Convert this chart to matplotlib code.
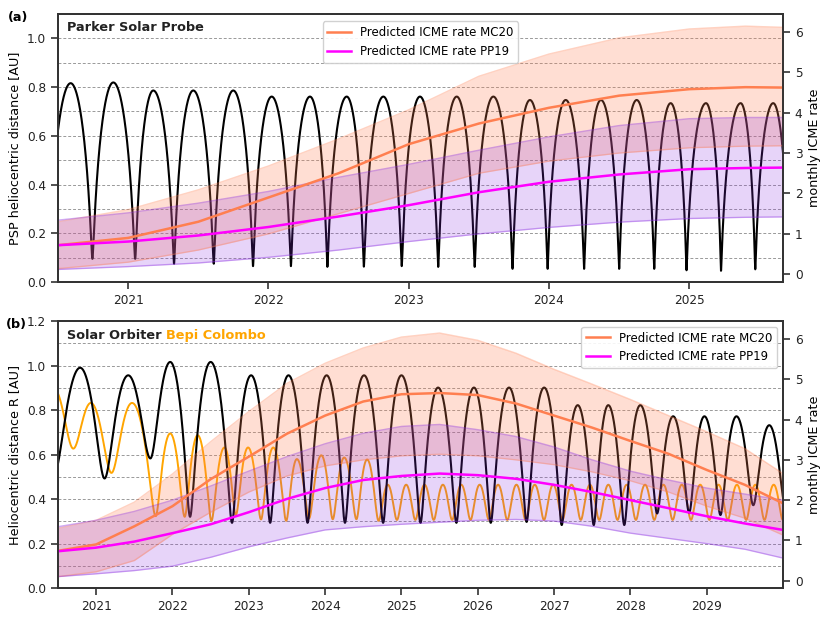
import numpy as np
import matplotlib
matplotlib.use("Agg")
import matplotlib.pyplot as plt
from matplotlib.ticker import MultipleLocator, FormatStrFormatter

plt.rcParams['font.family'] = ['DejaVu Sans']
plt.rcParams['font.size'] = 8.5

# ---------------------------------------------------------------
# Orbit extrema (decimal year, distance in AU)
# alternating perihelion / aphelion
psp_t = [2020.43, 2020.59, 2020.745, 2020.894, 2021.05, 2021.179, 2021.327, 2021.464,
         2021.61, 2021.749, 2021.89, 2022.023, 2022.16, 2022.296, 2022.42, 2022.558,
         2022.68, 2022.819, 2022.95, 2023.08, 2023.21, 2023.342, 2023.47, 2023.603,
         2023.74, 2023.864, 2023.99, 2024.119, 2024.25, 2024.37, 2024.50, 2024.625,
         2024.75, 2024.867, 2024.98, 2025.119, 2025.226, 2025.366, 2025.47, 2025.598,
         2025.71]
psp_r = [0.13, 0.816, 0.095, 0.819, 0.095, 0.786, 0.075, 0.786,
         0.075, 0.786, 0.065, 0.761, 0.065, 0.761, 0.062, 0.761,
         0.063, 0.761, 0.065, 0.761, 0.062, 0.761, 0.062, 0.761,
         0.054, 0.747, 0.054, 0.747, 0.054, 0.747, 0.054, 0.747,
         0.054, 0.734, 0.048, 0.734, 0.046, 0.734, 0.052, 0.734,
         0.046]

solo_t = [2020.455, 2020.79, 2021.11, 2021.42, 2021.71, 2021.97, 2022.23, 2022.50,
          2022.78, 2023.03, 2023.28, 2023.52, 2023.77, 2024.02, 2024.26, 2024.51,
          2024.76, 2025.00, 2025.25, 2025.48, 2025.72, 2025.95, 2026.17, 2026.41,
          2026.64, 2026.87, 2027.10, 2027.31, 2027.52, 2027.71, 2027.92, 2028.13,
          2028.35, 2028.56, 2028.77, 2028.97, 2029.18, 2029.39, 2029.61, 2029.82,
          2030.03]
solo_r = [0.52, 0.99, 0.493, 0.956, 0.583, 1.016, 0.321, 1.016,
          0.294, 0.956, 0.294, 0.956, 0.294, 0.956, 0.294, 0.956,
          0.294, 0.956, 0.294, 0.901, 0.294, 0.901, 0.294, 0.901,
          0.298, 0.901, 0.284, 0.822, 0.284, 0.822, 0.284, 0.822,
          0.336, 0.772, 0.339, 0.772, 0.329, 0.772, 0.373, 0.732,
          0.37]

bepi_t = [2020.44, 2020.70, 2020.93, 2021.20, 2021.47, 2021.78, 2021.97, 2022.16,
          2022.33, 2022.51, 2022.68, 2022.83, 2022.99, 2023.16, 2023.32, 2023.49,
          2023.63, 2023.79, 2023.95, 2024.10, 2024.25, 2024.41, 2024.55, 2024.70,
          2024.821, 2024.941, 2025.062, 2025.182, 2025.303, 2025.423, 2025.543, 2025.664,
          2025.784, 2025.905, 2026.025, 2026.146, 2026.266, 2026.387, 2026.507, 2026.627,
          2026.747, 2026.868, 2026.988, 2027.109, 2027.229, 2027.350, 2027.470, 2027.591,
          2027.711, 2027.831, 2027.951, 2028.072, 2028.192, 2028.313, 2028.433, 2028.554,
          2028.674, 2028.794, 2028.915, 2029.035, 2029.155, 2029.276, 2029.396, 2029.517,
          2029.637, 2029.757, 2029.878, 2029.998]
bepi_r = [0.90, 0.627, 0.832, 0.518, 0.832, 0.324, 0.695, 0.321,
          0.687, 0.303, 0.632, 0.329, 0.632, 0.309, 0.632, 0.303,
          0.58, 0.314, 0.597, 0.31, 0.587, 0.31, 0.578, 0.303,
          0.465, 0.307, 0.465, 0.307, 0.465, 0.307, 0.465, 0.307,
          0.465, 0.307, 0.465, 0.307, 0.465, 0.307, 0.465, 0.307,
          0.465, 0.307, 0.465, 0.307, 0.465, 0.307, 0.465, 0.307,
          0.465, 0.307, 0.465, 0.307, 0.465, 0.307, 0.465, 0.307,
          0.465, 0.307, 0.465, 0.307, 0.465, 0.307, 0.465, 0.307,
          0.465, 0.307, 0.465, 0.307]

# ---------------------------------------------------------------
# Predicted monthly ICME rates
top_year = [2020.5, 2021.0, 2021.5, 2022.0, 2022.5, 2023.0, 2023.5, 2024.0, 2024.5,
            2025.0, 2025.4, 2025.67]
mc20_top = [0.72, 0.90, 1.30, 1.90, 2.50, 3.22, 3.73, 4.12, 4.42, 4.58, 4.63, 4.62]
mc20_top_hi = [1.30, 1.60, 2.09, 2.68, 3.35, 4.07, 4.90, 5.45, 5.85, 6.07, 6.14, 6.11]
mc20_top_lo = [0.14, 0.30, 0.60, 1.00, 1.50, 2.00, 2.50, 2.80, 3.00, 3.13, 3.17, 3.18]
pp19_top = [0.72, 0.81, 0.96, 1.17, 1.43, 1.71, 2.03, 2.29, 2.47, 2.60, 2.63, 2.64]
pp19_top_hi = [1.34, 1.52, 1.76, 2.05, 2.40, 2.72, 3.07, 3.40, 3.68, 3.85, 3.88, 3.88]
pp19_top_lo = [0.12, 0.19, 0.28, 0.42, 0.60, 0.81, 1.00, 1.16, 1.29, 1.38, 1.41, 1.42]

bot_year = [2020.5, 2021.0, 2021.5, 2022.0, 2022.5, 2023.0, 2023.5, 2024.0, 2024.5, 2025.0,
            2025.5, 2026.0, 2026.5, 2027.0, 2027.5, 2028.0, 2028.5, 2029.0, 2029.5, 2030.0]
mc20_bot = [0.74, 0.90, 1.35, 1.85, 2.52, 3.08, 3.65, 4.10, 4.45, 4.63,
            4.66, 4.61, 4.40, 4.10, 3.80, 3.47, 3.15, 2.75, 2.38, 1.92]
mc20_bot_hi = [1.30, 1.50, 1.95, 2.65, 3.45, 4.20, 4.90, 5.40, 5.78, 6.05,
               6.15, 5.97, 5.65, 5.25, 4.88, 4.50, 4.10, 3.70, 3.28, 2.66]
mc20_bot_lo = [0.10, 0.22, 0.50, 1.15, 1.70, 2.20, 2.60, 2.85, 3.00, 3.10,
               3.14, 3.10, 3.00, 2.88, 2.70, 2.48, 2.20, 1.85, 1.55, 1.13]
pp19_bot = [0.73, 0.82, 0.97, 1.18, 1.40, 1.70, 2.03, 2.30, 2.50, 2.60,
            2.66, 2.62, 2.53, 2.38, 2.20, 2.00, 1.80, 1.60, 1.42, 1.26]
pp19_bot_hi = [1.34, 1.50, 1.72, 2.00, 2.35, 2.72, 3.08, 3.40, 3.66, 3.83,
               3.88, 3.75, 3.58, 3.32, 3.00, 2.72, 2.50, 2.30, 2.15, 2.00]
pp19_bot_lo = [0.10, 0.17, 0.25, 0.36, 0.58, 0.84, 1.06, 1.26, 1.34, 1.40,
               1.45, 1.50, 1.52, 1.48, 1.35, 1.18, 1.05, 0.92, 0.78, 0.56]

top_ticks = [2021, 2022, 2023, 2024, 2025]
bot_ticks = [2021, 2022, 2023, 2024, 2025, 2026, 2027, 2028, 2029]

MC20_COL = '#ff7f50'
PP19_COL = '#ff00ff'
BAND1 = '#ff7f50'
BAND2 = '#8a2be2'
SPINE = '#333333'
LABEL_FS = 9.2


# orbit track between read extrema: each half orbit is a Kepler arc
def orbit_track(ext_t, ext_r, t):
    r = np.full(t.shape, np.nan)
    for i in range(len(ext_t) - 1):
        t0, t1 = ext_t[i], ext_t[i + 1]
        r0, r1 = ext_r[i], ext_r[i + 1]
        m = (t >= t0) & (t <= t1)
        if not m.any():
            continue
        q, Q = min(r0, r1), max(r0, r1)
        a = (q + Q) / 2
        e = (Q - q) / (Q + q)
        frac = (t[m] - t0) / (t1 - t0)
        if r0 < r1:
            M = np.pi * frac
        else:
            M = np.pi * (1 - frac)
        E = np.full(M.shape, np.pi)
        for _ in range(40):
            E = E - (E - e * np.sin(E) - M) / (1 - e * np.cos(E))
        r[m] = a * (1 - e * np.cos(E))
    return r


def style_axes(ax, ax2):
    for a in (ax, ax2):
        for s in a.spines.values():
            s.set_color(SPINE)
            s.set_linewidth(1.3)
        a.tick_params(which='major', direction='out', length=5, width=1.2,
                      color=SPINE, labelcolor='#222222', labelsize=8.7)
    ax.yaxis.set_minor_locator(MultipleLocator(0.1))
    ax.tick_params(which='minor', length=0)
    ax.grid(axis='y', which='both', color='#999999', lw=0.7, ls=(0, (3, 2)))
    ax.yaxis.set_major_formatter(FormatStrFormatter('%.1f'))


def draw_rates(ax2, yr, mc, mc_lo, mc_hi, pp, pp_lo, pp_hi):
    ax2.fill_between(yr, mc_lo, mc_hi, color=BAND1, alpha=0.25, lw=0)
    ax2.plot(yr, mc_hi, color=BAND1, alpha=0.35, lw=1)
    ax2.plot(yr, mc_lo, color=BAND1, alpha=0.35, lw=1)
    ax2.fill_between(yr, pp_lo, pp_hi, color=BAND2, alpha=0.2, lw=0)
    ax2.plot(yr, pp_hi, color=BAND2, alpha=0.4, lw=1)
    ax2.plot(yr, pp_lo, color=BAND2, alpha=0.4, lw=1)
    l1, = ax2.plot(yr, mc, color=MC20_COL, lw=1.8, label='Predicted ICME rate MC20')
    l2, = ax2.plot(yr, pp, color=PP19_COL, lw=1.8, label='Predicted ICME rate PP19')
    return [l1, l2]


fig = plt.figure(figsize=(8.3, 6.23), dpi=100)

# ---------------------------------------------------------------
# (a) Parker Solar Probe
ax = fig.add_axes([0.0699, 0.5474, 0.8735, 0.4301])
ax2 = ax.twinx()
t_top = np.linspace(2020.5, 2025.668, 30000)
ax.plot(t_top, orbit_track(psp_t, psp_r, t_top), color='black', lw=1.5)
ax.set_xlim(2020.5, 2025.668)
ax.set_ylim(0, 1.1)
ax.set_yticks([0.0, 0.2, 0.4, 0.6, 0.8, 1.0])
ax.set_xticks(top_ticks)
ax.set_xticklabels([str(y) for y in top_ticks])
ax.set_ylabel('PSP heliocentric distance [AU]', fontsize=LABEL_FS)
hs = draw_rates(ax2, top_year, mc20_top, mc20_top_lo, mc20_top_hi,
                pp19_top, pp19_top_lo, pp19_top_hi)
ax2.set_ylim(-0.19, 6.44)
ax2.set_yticks([0, 1, 2, 3, 4, 5, 6])
ax2.set_ylabel('monthly ICME rate', fontsize=LABEL_FS)
style_axes(ax, ax2)
ax2.legend(handles=hs, loc='upper center', bbox_to_anchor=(0.5, 0.995),
           fontsize=8.5, framealpha=0.9, edgecolor='#cccccc')
ax.text(0.012, 0.951, 'Parker Solar Probe', transform=ax.transAxes,
        fontweight='bold', color='#222222', va='center', fontsize=9.3)
fig.text(0.010, 0.972, '(a)', fontweight='bold', fontsize=9.3, va='center')

# ---------------------------------------------------------------
# (b) Solar Orbiter and Bepi Colombo
bx = fig.add_axes([0.0699, 0.0557, 0.8735, 0.4291])
bx2 = bx.twinx()
t_bot = np.linspace(2020.5, 2030.0, 30000)
bx.plot(t_bot, orbit_track(bepi_t, bepi_r, t_bot), color='orange', lw=1.4)
bx.plot(t_bot, orbit_track(solo_t, solo_r, t_bot), color='black', lw=1.5)
bx.set_xlim(2020.5, 2030.0)
bx.set_ylim(0, 1.2)
bx.set_yticks([0.0, 0.2, 0.4, 0.6, 0.8, 1.0, 1.2])
bx.set_xticks(bot_ticks)
bx.set_xticklabels([str(y) for y in bot_ticks])
bx.set_ylabel('Heliocentric distance R [AU]', fontsize=LABEL_FS)
hs = draw_rates(bx2, bot_year, mc20_bot, mc20_bot_lo, mc20_bot_hi,
                pp19_bot, pp19_bot_lo, pp19_bot_hi)
bx2.set_ylim(-0.19, 6.45)
bx2.set_yticks([0, 1, 2, 3, 4, 5, 6])
bx2.set_ylabel('monthly ICME rate', fontsize=LABEL_FS)
style_axes(bx, bx2)
bx2.legend(handles=hs, loc='upper right', fontsize=8.5, framealpha=0.9,
           edgecolor='#cccccc')
t1 = bx.text(0.012, 0.947, 'Solar Orbiter ', transform=bx.transAxes,
             fontweight='bold', color='#222222', va='center', fontsize=9.3)
fig.canvas.draw()
bb = t1.get_window_extent().transformed(bx.transAxes.inverted())
bx.text(bb.x1, 0.947, 'Bepi Colombo', transform=bx.transAxes,
        fontweight='bold', color='orange', va='center', fontsize=9.3)
fig.text(0.0325, 0.479, '(b)', fontweight='bold', fontsize=9.3, va='center',
         ha='right')

fig.savefig('out.png', dpi=100)
